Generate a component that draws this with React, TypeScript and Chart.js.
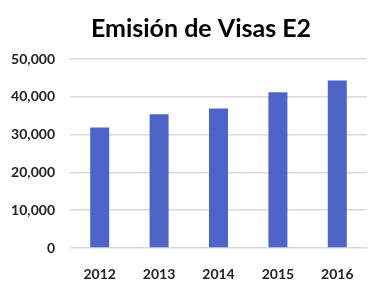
import React, { useEffect, useRef } from "react";
import { Chart, registerables } from "chart.js";

Chart.register(...registerables);

const categories = ["2012", "2013", "2014", "2015", "2016"];
const visas = [31900, 35400, 36900, 41200, 44300];
const yTicks = [0, 10000, 20000, 30000, 40000, 50000];
const titleText = "Emisión de Visas E2";

const titlePlugin = {
  id: "customTitle",
  afterDraw(chart: any) {
    const ctx = chart.ctx;
    ctx.save();
    ctx.font = "bold 25px Lato";
    ctx.fillStyle = "#000000";
    ctx.textAlign = "center";
    ctx.textBaseline = "middle";
    ctx.fillText(titleText, 201, 29);
    ctx.restore();
  },
};

export default function App() {
  const ref = useRef<HTMLCanvasElement | null>(null);
  useEffect(() => {
    document.body.style.margin = "0";
    if (!ref.current) return;
    const chart = new Chart(ref.current, {
      type: "bar",
      data: {
        labels: categories,
        datasets: [
          {
            data: visas,
            backgroundColor: "#4F64C8",
            categoryPercentage: 1,
            barPercentage: 0.32,
          },
        ],
      },
      plugins: [titlePlugin],
      options: {
        animation: false,
        responsive: false,
        devicePixelRatio: 1,
        layout: { padding: { left: 0, right: 15, top: 59, bottom: 0 } },
        plugins: {
          legend: { display: false },
          tooltip: { enabled: false },
          title: { display: false },
        },
        scales: {
          x: {
            grid: { display: false },
            border: { display: false },
            ticks: {
              color: "#222222",
              font: { family: "Lato", size: 14, weight: "bold" },
              padding: 10,
            },
            afterFit: (s: any) => {
              s.height = 40;
            },
          },
          y: {
            min: 0,
            max: 50000,
            afterBuildTicks: (s: any) => {
              s.ticks = yTicks.map((v) => ({ value: v }));
            },
            grid: { color: "#D9D9D9", lineWidth: 1.5, drawTicks: false },
            border: { display: false },
            ticks: {
              color: "#222222",
              font: { family: "Lato", size: 14, weight: "bold" },
              padding: 15,
              callback: (v: any) => Number(v).toLocaleString("en-US"),
            },
            afterFit: (s: any) => {
              s.width = 70;
            },
          },
        },
      },
    });
    return () => chart.destroy();
  }, []);
  return (
    <div style={{ position: "absolute", left: 0, top: 0, width: 382, height: 288 }}>
      <canvas ref={ref} width={382} height={288} style={{ width: 382, height: 288 }} />
    </div>
  );
}
